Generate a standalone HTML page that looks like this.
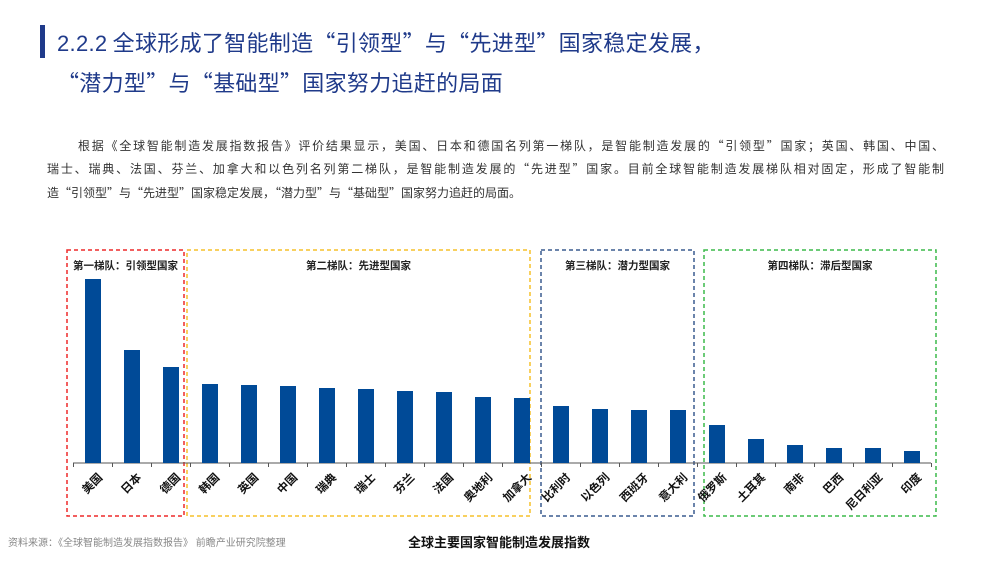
<!DOCTYPE html>
<html><head><meta charset="utf-8">
<style>
body{margin:0;width:1000px;height:562px;background:#fff;overflow:hidden;position:relative;font-family:"Liberation Sans","Noto Sans CJK SC",sans-serif;}
.t{position:absolute;color:#1f3a8a;font-size:22px;white-space:nowrap;font-family:"Noto Sans CJK SC",sans-serif;letter-spacing:0.3px}
.pl{position:absolute;font-size:12px;color:#333;white-space:nowrap;text-align:justify;text-align-last:justify;font-family:"Noto Sans CJK SC",sans-serif}
</style></head><body>
<div style="position:absolute;left:40px;top:25px;width:5px;height:33px;background:#1f3a8a"></div>
<div class="t" style="left:57px;top:26px"><span style="font-family:'Liberation Sans',sans-serif">2.2.2</span> 全球形成了智能制造“引领型”与“先进型”国家稳定发展，</div>
<div class="t" style="left:57px;top:66px">“潜力型”与“基础型”国家努力追赶的局面</div>
<div>
<div class="pl" style="left:78px;top:137px;width:866px">根据《全球智能制造发展指数报告》评价结果显示，美国、日本和德国名列第一梯队，是智能制造发展的“引领型”国家；英国、韩国、中国、</div>
<div class="pl" style="left:47px;top:160px;width:897px">瑞士、瑞典、法国、芬兰、加拿大和以色列名列第二梯队，是智能制造发展的“先进型”国家。目前全球智能制造发展梯队相对固定，形成了智能制</div>
<div class="pl" style="left:47px;top:184px;text-align-last:auto">造“引领型”与“先进型”国家稳定发展，“潜力型”与“基础型”国家努力追赶的局面。</div>
</div>
<svg id="chart" width="1000" height="562" style="position:absolute;left:0;top:0"></svg>
<div style="position:absolute;left:8px;top:534px;font-size:10px;color:#888">资料来源：《全球智能制造发展指数报告》 前瞻产业研究院整理</div>
<div style="position:absolute;left:408px;top:532px;font-size:13px;font-weight:bold;color:#111">全球主要国家智能制造发展指数</div>
<script>
const categories=["美国","日本","德国","韩国","英国","中国","瑞典","瑞士","芬兰","法国","奥地利","加拿大","比利时","以色列","西班牙","意大利","俄罗斯","土耳其","南非","巴西","尼日利亚","印度"];
const values=[184,113,96,79,78,77,75,74,72,71,66,65,57,54,53,53,38,24,18,15,15,12];
const groupNames=["第一梯队：引领型国家","第二梯队：先进型国家","第三梯队：潜力型国家","第四梯队：滞后型国家"];
const groupStart=[0,3,12,16];
const groupEnd=[2,11,15,21];
const NS="http://www.w3.org/2000/svg";
const svg=document.getElementById('chart');
const x0=93,step=39,base=463,maxV=184,maxH=184;
const xs=i=>x0+i*step;
const ys=v=>base-v/maxV*maxH;
function mk(t,a){const e=document.createElementNS(NS,t);for(const k in a)e.setAttribute(k,a[k]);svg.appendChild(e);return e;}
const colors=["#ee2a2a","#f5c02a","#3a5b8f","#3cba4a"];
const boxes=[[67,184],[187,530],[541,694],[704,936]];
groupNames.forEach((g,i)=>{
  const r=mk('rect',{x:boxes[i][0],y:250,width:boxes[i][1]-boxes[i][0],height:266,fill:'none',stroke:colors[i],'stroke-width':1.5,'stroke-dasharray':'4,3'});
  
  
  const t=mk('text',{x:(boxes[i][0]+boxes[i][1])/2,y:269,'text-anchor':'middle','font-size':10.5,'font-weight':'bold',fill:'#222'});
  t.textContent=g;
  
  
});
const ax=mk('line',{x1:73,y1:base,x2:931,y2:base,stroke:'#555','stroke-width':1});


for(let i=0;i<=categories.length;i++){
  const tx=xs(i)-step/2;
  const tk=mk('line',{x1:tx,y1:base,x2:tx,y2:base+4,stroke:'#555'});
  
  
}
categories.forEach((c,i)=>{
  const b=mk('rect',{x:xs(i)-8,y:ys(values[i]),width:16,height:base-ys(values[i]),fill:'#004a97'});
  
  
  const t=mk('text',{x:xs(i)+5,y:base+10,'text-anchor':'end','font-size':11.5,'font-weight':'bold',fill:'#111',transform:`rotate(-45 ${xs(i)+5} ${base+10})`,'dominant-baseline':'hanging'});
  t.textContent=c;
  
  
});
</script>
</body></html>
